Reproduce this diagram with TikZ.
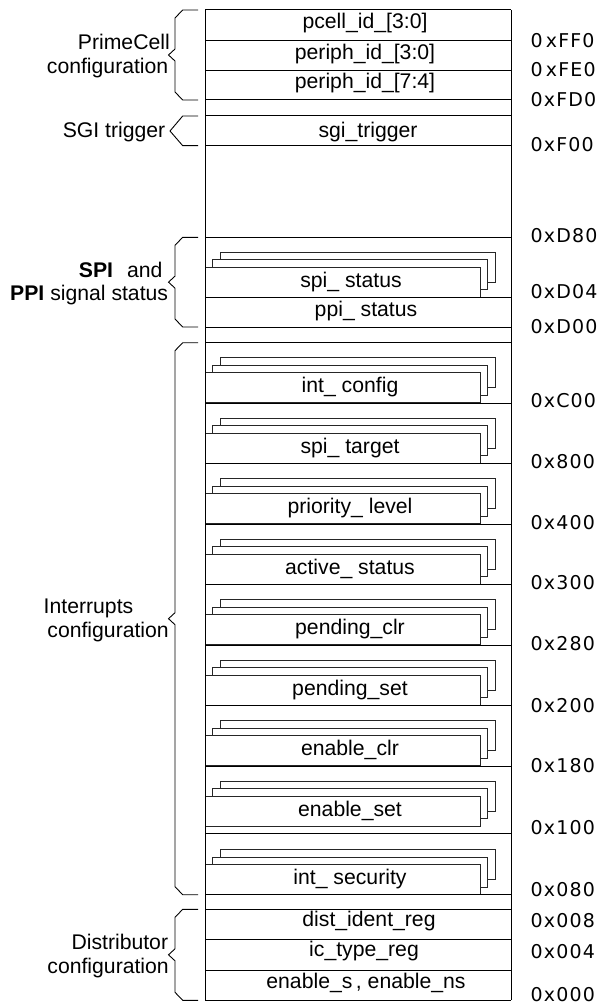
\documentclass[tikz,border=0pt]{standalone}
\usepackage{fontspec}
\setmainfont{Liberation Sans}
\newfontfamily\addrfont[LetterSpace=6]{DejaVu Sans}

% left curly brace: top y, bottom y
\newcommand\drawbrace[2]{%
  \pgfmathsetmacro\bmid{(#1+#2)/2}%
  \draw[brace] (198,#1) -- (182.7,#1) -- (175,#1+8) -- (175,\bmid-6)
    -- (168.5,\bmid) -- (175,\bmid+6) -- (175,#2-8) -- (182.7,#2) -- (198,#2);
}
% three stacked register boxes, argument = top of the front box
\newcommand\regstack[1]{%
  \draw[stackbox] (220.3,#1-15) rectangle (495,#1+15);
  \draw[stackbox] (212.7,#1-7.5) rectangle (487.5,#1+22.5);
  \draw[stackbox] (205,#1) rectangle (480,#1+30);
}

\tikzset{
  regline/.style={line width=1pt, black},
  stackbox/.style={draw=black!85, fill=white, line width=0.8pt},
  brace/.style={line width=0.9pt, black, line join=miter},
  regtext/.style={font=\fontsize{21.2}{25}\selectfont, inner sep=0pt, anchor=base},
  sidetext/.style={font=\fontsize{21.2}{25}\selectfont, inner sep=0pt, anchor=base east},
  addr/.style={font=\addrfont\fontsize{19}{22}\selectfont, inner sep=0pt, anchor=base west},
}

\begin{document}
\begin{tikzpicture}[x=1pt,y=-1pt]
\useasboundingbox (0,0) rectangle (603,1008);

% stacked registers
\regstack{267}
\foreach \t in {342.7,403.2,463.7,524.2,584.7,645.2,705.7,766.2} {
  \regstack{\t+30}
}
\regstack{864.7}

% row separators
\foreach \y in {10,40.3,70.3,100,116,145.7,237.3,297,327,342.7,403.2,463.7,
                524.2,584.7,645.2,705.7,766.2,833.3,894.7,909.3,939.7,970.3,1000.3} {
  \draw[regline] (205,\y) -- (511,\y);
}
% outer frame
\draw[regline] (205,10) -- (205,1000.3);
\draw[regline] (511,10) -- (511,1000.3);

% register names
\node[regtext] (pcell) at (365,28.4) {pcell\_id\_[3:0]};
\node[regtext] (pid3) at (365,59.1) {periph\_id\_[3:0]};
\node[regtext] (pid7) at (365,88.7) {periph\_id\_[7:4]};
\node[regtext] (sgi) at (368,138) {sgi\_trigger};
\node[regtext] (spist) at (351,287) {spi\_ status};
\node[regtext] (ppist) at (366,316.5) {ppi\_ status};
\node[regtext] (icfg) at (350,392.7) {int\_ config};
\node[regtext] (spit) at (350,453.2) {spi\_ target};
\node[regtext] (prio) at (350,513.7) {priority\_ level};
\node[regtext] (act) at (350,574.2) {active\_ status};
\node[regtext] (pclr) at (350,634.7) {pending\_clr};
\node[regtext] (pset) at (350,695.2) {pending\_set};
\node[regtext] (eclr) at (350,755.7) {enable\_clr};
\node[regtext] (eset) at (350,816.2) {enable\_set};
\node[regtext] (isec) at (350,884.7) {int\_ security};
\node[regtext] (dist) at (369,926.5) {dist\_ident\_reg};
\node[regtext] (ictype) at (364,956.5) {ic\_type\_reg};
\node[regtext] (ens) at (366,988) {enable\_s\,, enable\_ns};

% group braces and labels
\drawbrace{10}{100}
\node[sidetext] (pcA) at (170,49.3) {PrimeCell};
\node[sidetext] (pcB) at (168.5,74) {configuration};

\draw[brace] (198,116) -- (182.7,116) -- (170,131) -- (182.7,145.7) -- (198,145.7);
\node[sidetext] (sgiL) at (165.5,137.3) {SGI trigger};

\drawbrace{237.3}{327}
\node[sidetext] (spiA) at (162.7,277.3) {\textbf{SPI}\hspace{14pt}and};
\node[sidetext] (spiB) at (168.3,300) {\textbf{PPI} signal status};

\drawbrace{342.7}{894.7}
\node[regtext, anchor=base west] (intA) at (43.5,613.3) {Interrupts};
\node[sidetext] (intB) at (169,637) {configuration};

\drawbrace{909.3}{1000.3}
\node[sidetext] (dcA) at (168.3,949) {Distributor};
\node[sidetext] (dcB) at (169,973) {configuration};

% offsets
\foreach \lab/\c in {0\,xFF0/40.5, 0\,xFE0/69.7, 0xFD0/99.7, 0xF00/144.7,
    0xD80/235.7, 0xD04/291.3, 0xD00/326.3, 0xC00/401, 0x800/461.3,
    0x400/522.3, 0x300/583, 0x280/643.5, 0x200/706, 0x180/766,
    0x100/827.3, 0x080/889.3, 0x008/921, 0x004/951.7, 0x000/994.3} {
  \node[addr] at (530.5,\c+6.8) {\lab};
}
\end{tikzpicture}
\end{document}
